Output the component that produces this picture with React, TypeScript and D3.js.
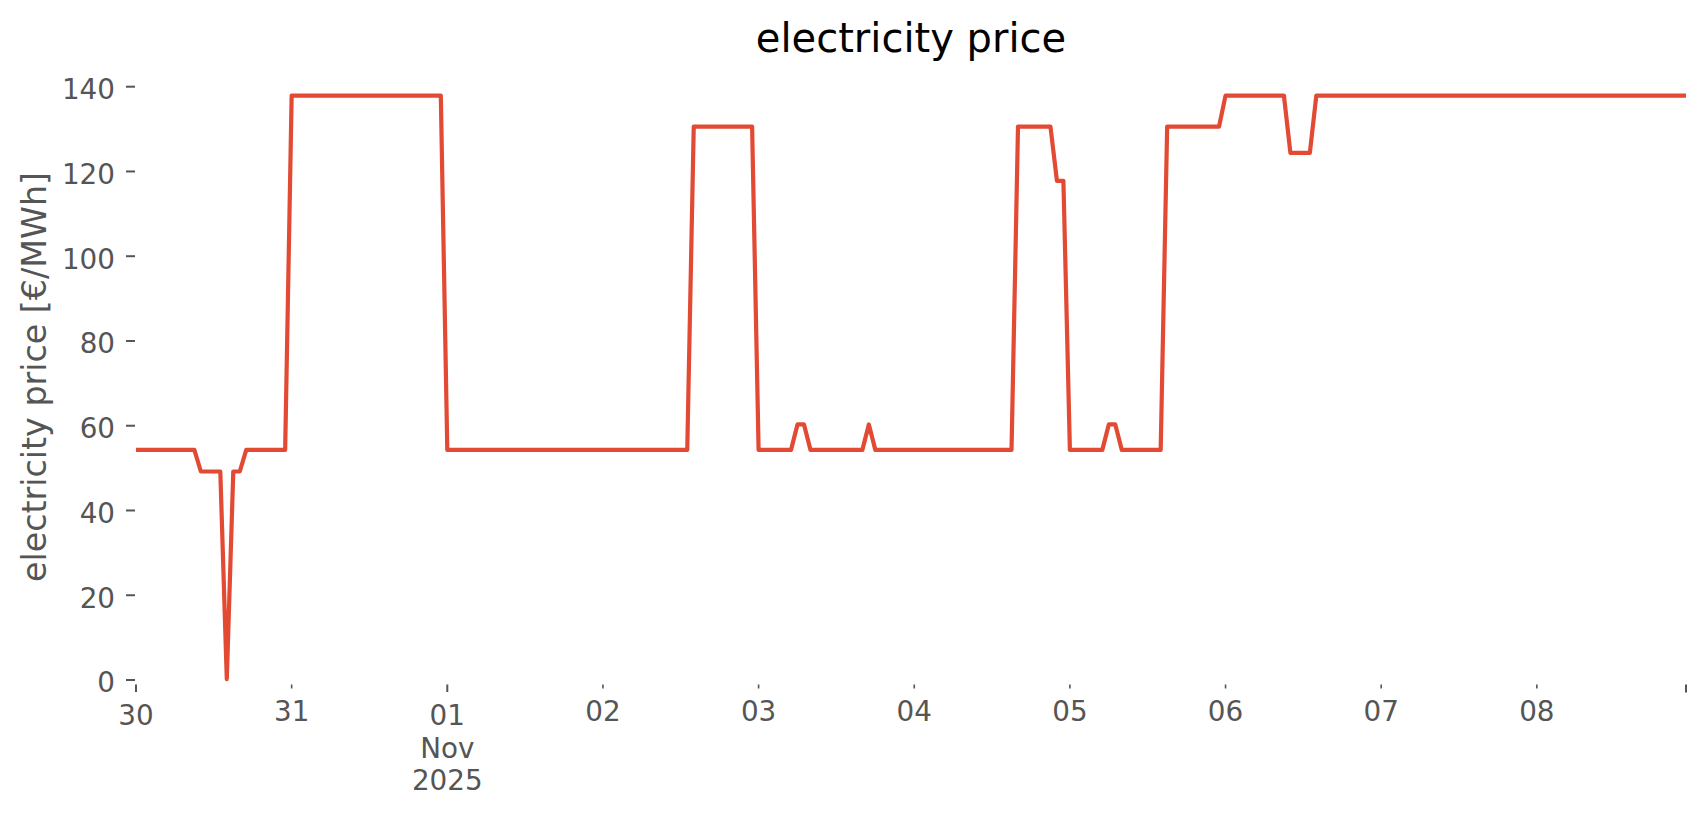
import React from "react";
import * as d3 from "d3";

// Hourly electricity price, 30 Oct 2025 00:00 .. 08 Nov 2025 23:00 (UTC)
const startTime = Date.UTC(2025, 9, 30, 0, 0);
const prices: number[] = [
  // Oct 30
  54.3, 54.3, 54.3, 54.3, 54.3, 54.3, 54.3, 54.3, 54.3, 54.3, 49.2, 49.2,
  49.2, 49.2, 0.2, 49.2, 49.2, 54.3, 54.3, 54.3, 54.3, 54.3, 54.3, 54.3,
  // Oct 31
  137.9, 137.9, 137.9, 137.9, 137.9, 137.9, 137.9, 137.9, 137.9, 137.9, 137.9, 137.9,
  137.9, 137.9, 137.9, 137.9, 137.9, 137.9, 137.9, 137.9, 137.9, 137.9, 137.9, 137.9,
  // Nov 01
  54.3, 54.3, 54.3, 54.3, 54.3, 54.3, 54.3, 54.3, 54.3, 54.3, 54.3, 54.3,
  54.3, 54.3, 54.3, 54.3, 54.3, 54.3, 54.3, 54.3, 54.3, 54.3, 54.3, 54.3,
  // Nov 02
  54.3, 54.3, 54.3, 54.3, 54.3, 54.3, 54.3, 54.3, 54.3, 54.3, 54.3, 54.3,
  54.3, 54.3, 130.6, 130.6, 130.6, 130.6, 130.6, 130.6, 130.6, 130.6, 130.6, 130.6,
  // Nov 03
  54.3, 54.3, 54.3, 54.3, 54.3, 54.3, 60.3, 60.3, 54.3, 54.3, 54.3, 54.3,
  54.3, 54.3, 54.3, 54.3, 54.3, 60.3, 54.3, 54.3, 54.3, 54.3, 54.3, 54.3,
  // Nov 04
  54.3, 54.3, 54.3, 54.3, 54.3, 54.3, 54.3, 54.3, 54.3, 54.3, 54.3, 54.3,
  54.3, 54.3, 54.3, 54.3, 130.6, 130.6, 130.6, 130.6, 130.6, 130.6, 117.8, 117.8,
  // Nov 05
  54.3, 54.3, 54.3, 54.3, 54.3, 54.3, 60.3, 60.3, 54.3, 54.3, 54.3, 54.3,
  54.3, 54.3, 54.3, 130.6, 130.6, 130.6, 130.6, 130.6, 130.6, 130.6, 130.6, 130.6,
  // Nov 06
  137.9, 137.9, 137.9, 137.9, 137.9, 137.9, 137.9, 137.9, 137.9, 137.9, 124.4, 124.4,
  124.4, 124.4, 137.9, 137.9, 137.9, 137.9, 137.9, 137.9, 137.9, 137.9, 137.9, 137.9,
  // Nov 07
  137.9, 137.9, 137.9, 137.9, 137.9, 137.9, 137.9, 137.9, 137.9, 137.9, 137.9, 137.9,
  137.9, 137.9, 137.9, 137.9, 137.9, 137.9, 137.9, 137.9, 137.9, 137.9, 137.9, 137.9,
  // Nov 08
  137.9, 137.9, 137.9, 137.9, 137.9, 137.9, 137.9, 137.9, 137.9, 137.9, 137.9, 137.9,
  137.9, 137.9, 137.9, 137.9, 137.9, 137.9, 137.9, 137.9, 137.9, 137.9, 137.9, 137.9,
];

const yTicks = [0, 20, 40, 60, 80, 100, 120, 140];
const dayLabels = ["30", "31", "01", "02", "03", "04", "05", "06", "07", "08"];
const majorDays = ["30", "01"];
const monthLabel = ["Nov", "2025"];
const titleText = "electricity price";
const yLabelText = "electricity price [€/MWh]";

const W = 1706;
const H = 815;
const LEFT = 136;
const RIGHT = 1686;
const TICK_COLOR = "#555555";
const LINE_COLOR = "#E24A33";
const FONT = "DejaVu Sans, sans-serif";
const TICK_FS = 27.8;
const LABEL_FS = 33.3;
const TITLE_FS = 40;

export default function App() {
  const times = prices.map((_, i) => new Date(startTime + i * 3600 * 1000));
  const x = d3
    .scaleUtc()
    .domain([times[0], times[times.length - 1]])
    .range([LEFT, RIGHT]);
  const y = d3.scaleLinear().domain([0, 140]).range([680, 86.7]);

  const line = d3
    .line<number>()
    .x((_, i) => x(times[i]))
    .y((d) => y(d));

  const days = d3.utcDay.range(times[0], new Date(times[times.length - 1].getTime() + 1));
  const axisY = 684.5;

  return (
    <div style={{ position: "absolute", left: 0, top: 0 }}>
      <svg width={W} height={H} style={{ display: "block", background: "#ffffff" }}>
        <rect x={0} y={0} width={W} height={H} fill="#ffffff" />
        {/* title */}
        <text
          x={(LEFT + RIGHT) / 2}
          y={52}
          textAnchor="middle"
          fontFamily={FONT}
          fontSize={TITLE_FS}
          fill="#000000"
        >
          {titleText}
        </text>
        {/* y label */}
        <text
          transform={`translate(45.5, 377) rotate(-90)`}
          textAnchor="middle"
          fontFamily={FONT}
          fontSize={LABEL_FS}
          fill={TICK_COLOR}
        >
          {yLabelText}
        </text>
        {/* y ticks */}
        {yTicks.map((t) => (
          <g key={t}>
            <line
              x1={126}
              x2={135}
              y1={y(t)}
              y2={y(t)}
              stroke={TICK_COLOR}
              strokeWidth={2}
            />
            <text
              x={115}
              y={y(t) + 12.3}
              textAnchor="end"
              fontFamily={FONT}
              fontSize={TICK_FS}
              fill={TICK_COLOR}
            >
              {t}
            </text>
          </g>
        ))}
        {/* x ticks */}
        {days.map((d, i) => {
          const label = dayLabels[i];
          const major = majorDays.includes(label);
          const xx = x(d);
          return (
            <g key={i}>
              <line
                x1={xx}
                x2={xx}
                y1={axisY}
                y2={axisY + (major ? 7.5 : 4)}
                stroke={TICK_COLOR}
                strokeWidth={major ? 2 : 1.6}
              />
              <text
                x={xx}
                y={major ? 725 : 720.5}
                textAnchor="middle"
                fontFamily={FONT}
                fontSize={TICK_FS}
                fill={TICK_COLOR}
              >
                {label}
              </text>
              {label === "01" &&
                monthLabel.map((m, k) => (
                  <text
                    key={m}
                    x={xx}
                    y={725 + (k + 1) * 32.5}
                    textAnchor="middle"
                    fontFamily={FONT}
                    fontSize={TICK_FS}
                    fill={TICK_COLOR}
                  >
                    {m}
                  </text>
                ))}
            </g>
          );
        })}
        {/* end tick at last data point */}
        <line
          x1={x(times[times.length - 1])}
          x2={x(times[times.length - 1])}
          y1={axisY}
          y2={axisY + 8}
          stroke={TICK_COLOR}
          strokeWidth={2}
        />
        {/* price line */}
        <path
          d={line(prices) || ""}
          fill="none"
          stroke={LINE_COLOR}
          strokeWidth={4.2}
          strokeLinejoin="round"
          strokeLinecap="butt"
        />
      </svg>
    </div>
  );
}
